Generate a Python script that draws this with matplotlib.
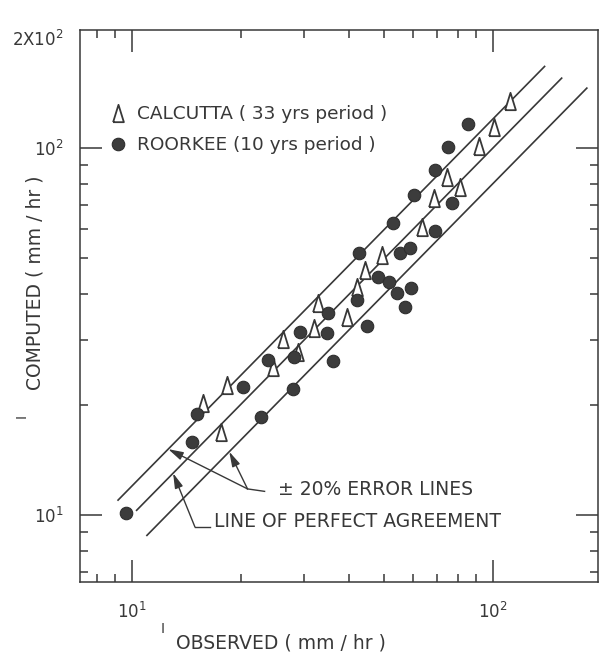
import matplotlib
matplotlib.use("Agg")
import matplotlib.pyplot as plt
from matplotlib.ticker import LogLocator, NullFormatter, FixedLocator
import numpy as np

# ---- data ----
roorkee_obs = [9.6, 15.1, 14.7, 20.3, 22.8, 23.8, 27.9, 28.1, 29.2, 34.9, 34.7, 36.1,
               42.0, 44.8, 42.5, 48.0, 51.5, 54.2, 59.3, 57.0, 55.3, 58.9, 52.8, 69.1,
               77.0, 60.4, 69.1, 75.0, 85.2]
roorkee_comp = [10.1, 18.9, 15.8, 22.3, 18.5, 26.4, 22.0, 27.0, 31.5, 35.5, 31.3, 26.3,
                38.5, 32.7, 51.7, 44.5, 43.1, 40.3, 41.5, 36.9, 51.7, 53.4, 62.5, 59.4,
                70.8, 74.5, 87.1, 100.6, 116.3]
calcutta_obs = [15.7, 17.6, 18.3, 24.6, 26.2, 28.8, 31.9, 32.7, 39.4, 42.0, 44.2, 49.3,
                63.6, 68.6, 74.6, 81.0, 91.5, 100.6, 111.4]
calcutta_comp = [20.2, 16.8, 22.6, 25.3, 30.2, 27.8, 32.3, 37.8, 34.6, 41.8, 46.5, 51.1,
                 60.9, 73.1, 83.4, 78.3, 101.3, 114.1, 134.3]

# reference lines: (factor, x start, x end)
line_factors = [1.2, 1.0, 0.8]
line_x_start = [9.15, 10.3, 11.0]
line_x_end = [139.0, 155.0, 182.0]

x_ticks = [10, 100]
x_tick_labels = ["$10^1$", "$10^2$"]
y_ticks = [10, 100, 200]
y_tick_labels = ["$10^1$", "$10^2$", "$2X10^2$"]

legend_labels = ["CALCUTTA ( 33 yrs period )", "ROORKEE (10 yrs period )"]

INK = "#383838"
plt.rcParams["font.family"] = ["DejaVu Sans"]
plt.rcParams["mathtext.default"] = "regular"

fig = plt.figure(figsize=(5.99, 6.54), dpi=100)
ax = fig.add_axes([80 / 599, 1 - 582 / 654, 518 / 599, 552 / 654])
ax.set_xscale("log")
ax.set_yscale("log")
ax.set_xlim(10 ** 0.856, 10 ** 2.291)
ax.set_ylim(10 ** 0.8175, 10 ** 2.3215)

# lines
for f, xs, xe in zip(line_factors, line_x_start, line_x_end):
    xx = np.array([xs, xe])
    ax.plot(xx, f * xx, color=INK, lw=1.2, zorder=2)

tri = [(-0.62, -1.0), (0.62, -1.0), (0.0, 1.0), (-0.62, -1.0)]
ax.plot(calcutta_obs, calcutta_comp, linestyle="none", marker=tri, markersize=12.5,
        markerfacecolor="white", markeredgecolor=INK, markeredgewidth=1.3, zorder=3,
        label=legend_labels[0])
ax.plot(roorkee_obs, roorkee_comp, linestyle="none", marker="o", markersize=9,
        markerfacecolor="#3c3c3c", markeredgecolor="#2e2e2e", markeredgewidth=0.8, zorder=3,
        label=legend_labels[1])

# axes styling
for s in ax.spines.values():
    s.set_color(INK)
    s.set_linewidth(1.1)

ax.xaxis.set_major_locator(FixedLocator(x_ticks))
ax.set_xticklabels(x_tick_labels)
ax.yaxis.set_major_locator(FixedLocator(y_ticks))
ax.set_yticklabels(y_tick_labels)
ax.xaxis.set_minor_locator(LogLocator(base=10, subs=np.arange(2, 10)))
ax.yaxis.set_minor_locator(LogLocator(base=10, subs=np.arange(2, 10)))
ax.xaxis.set_minor_formatter(NullFormatter())
ax.yaxis.set_minor_formatter(NullFormatter())

ax.tick_params(which="both", direction="in", top=True, right=True, color=INK,
               labelcolor=INK, labelsize=12, width=1.1)
ax.tick_params(which="major", length=16)
ax.tick_params(which="minor", length=6)
ax.tick_params(axis="x", which="major", pad=14)
ax.tick_params(axis="y", which="major", pad=12)
# hide tick marks at 2x10^2 (top corner)
for t in ax.yaxis.get_major_ticks()[2:]:
    t.tick1line.set_visible(False)
    t.tick2line.set_visible(False)

# axis labels
fig.text(281 / 599, 1 - 643 / 654, "OBSERVED ( mm / hr )", ha="center", va="center",
         fontsize=13.5, color=INK)
fig.text(163 / 599, 1 - 629 / 654, "I", ha="center", va="center", fontsize=10, color=INK)
fig.text(35 / 599, 1 - 283 / 654, "COMPUTED ( mm / hr )", ha="center", va="center",
         rotation=90, fontsize=13.5, color=INK)
fig.text(22 / 599, 1 - 416 / 654, "I", ha="center", va="center", rotation=90,
         fontsize=10, color=INK)

# legend
leg = ax.legend(loc="upper left", bbox_to_anchor=(0.056, 0.864), frameon=False,
                fontsize=13.3, handlelength=1.0, handletextpad=0.5, borderpad=0,
                borderaxespad=0, labelspacing=0.7, labelcolor=INK)

# annotations
arrow_kw = dict(arrowstyle="-|>,head_length=0.9,head_width=0.25", color=INK, lw=1.0,
                mutation_scale=10, shrinkA=0, shrinkB=0)
err_vertex = (20.9, 11.78)
err_tips = [(12.6, 12.6 * 1.2), (18.6, 18.6 * 0.8)]
for tip in err_tips:
    ax.annotate("", xy=tip, xytext=err_vertex, arrowprops=arrow_kw)
ax.plot([err_vertex[0], 23.3], [err_vertex[1], 11.6], color=INK, lw=1.0)
ax.text(25.4, 11.7, "± 20% ERROR LINES", fontsize=13.5, color=INK, ha="left", va="center")

perf_vertex = (14.94, 9.28)
perf_tip = (13.0, 13.0)
ax.annotate("", xy=perf_tip, xytext=perf_vertex, arrowprops=arrow_kw)
ax.plot([perf_vertex[0], 16.4], [perf_vertex[1], perf_vertex[1]], color=INK, lw=1.0)
ax.text(16.9, 9.62, "LINE OF PERFECT AGREEMENT", fontsize=13.5, color=INK,
        ha="left", va="center")

fig.savefig("out.png", dpi=100)
